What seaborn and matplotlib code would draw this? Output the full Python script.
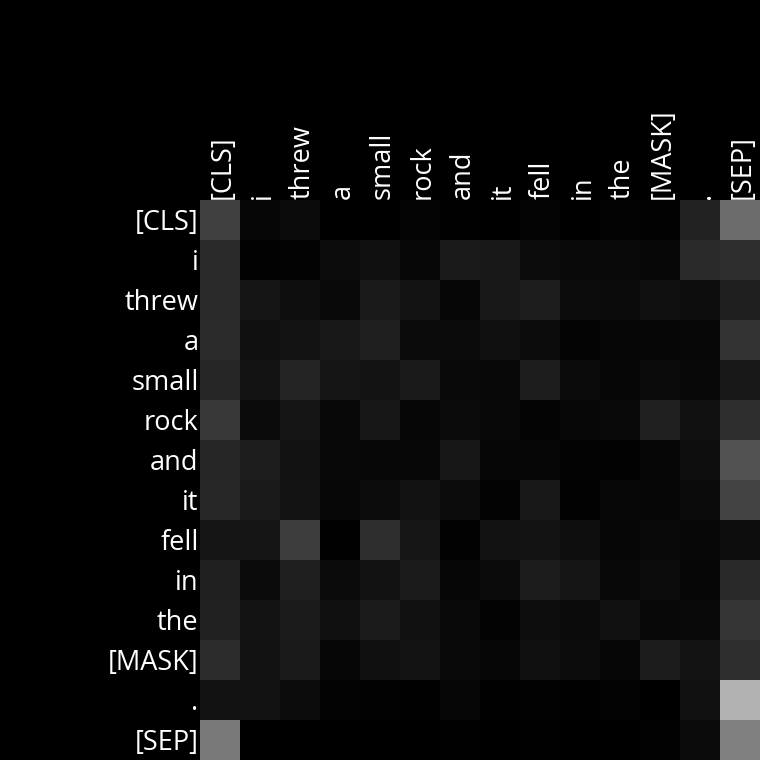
import numpy as np
import pandas as pd
import matplotlib
matplotlib.use("Agg")
import matplotlib.pyplot as plt
import matplotlib.transforms as mtransforms
import seaborn as sns

# Tokens of the sentence
tokens = ["[CLS]", "i", "threw", "a", "small", "rock", "and", "it",
          "fell", "in", "the", "[MASK]", ".", "[SEP]"]

# Attention weights (row = query token, column = key token)
row_cls = [.251, .027, .043, .000, .000, .016, .004, .000, .016, .000, .012, .008, .133, .424]
row_i = [.165, .008, .012, .047, .063, .031, .098, .094, .047, .039, .039, .031, .165, .180]
row_threw = [.165, .082, .055, .039, .098, .075, .027, .094, .114, .047, .043, .063, .051, .118]
row_a = [.169, .063, .078, .094, .118, .043, .043, .063, .047, .016, .020, .027, .031, .196]
row_small = [.149, .078, .137, .082, .078, .102, .039, .035, .114, .043, .020, .043, .035, .094]
row_rock = [.220, .043, .082, .035, .090, .020, .043, .035, .016, .031, .039, .125, .067, .180]
row_and = [.149, .114, .071, .035, .031, .031, .090, .027, .027, .012, .008, .024, .055, .322]
row_it = [.153, .102, .078, .031, .047, .071, .047, .012, .094, .008, .031, .027, .043, .263]
row_fell = [.082, .082, .235, .004, .176, .086, .008, .071, .075, .055, .020, .039, .031, .051]
row_in = [.125, .043, .122, .043, .071, .106, .027, .043, .110, .082, .035, .047, .027, .161]
row_the = [.129, .078, .106, .063, .106, .067, .039, .012, .051, .043, .067, .035, .039, .208]
row_mask = [.173, .071, .098, .024, .059, .078, .039, .024, .059, .047, .027, .110, .075, .180]
row_dot = [.071, .071, .047, .012, .008, .004, .027, .004, .008, .004, .012, .000, .067, .698]
row_sep = [.471, .000, .000, .000, .000, .000, .004, .000, .004, .000, .000, .008, .043, .502]

attn = pd.DataFrame(
    [row_cls, row_i, row_threw, row_a, row_small, row_rock, row_and, row_it,
     row_fell, row_in, row_the, row_mask, row_dot, row_sep],
    index=tokens, columns=tokens)

plt.rcParams["font.family"] = ["Open Sans", "DejaVu Sans"]

fig = plt.figure(figsize=(7.6, 7.6), dpi=100, facecolor="black")
ax = fig.add_axes([200 / 760, 0, 560 / 760, 560 / 760])
sns.heatmap(attn, ax=ax, cmap="gray", vmin=0, vmax=1, cbar=False,
            square=False, xticklabels=tokens, yticklabels=tokens)

ax.xaxis.tick_top()
ax.tick_params(axis="both", length=0, pad=1, labelsize=19.5, colors="white")
plt.setp(ax.get_xticklabels(), rotation=90)
plt.setp(ax.get_yticklabels(), rotation=0)
ax.set_xlabel("")
ax.set_ylabel("")

# nudge labels a few pixels to line up with the cells like the original
shift_x = mtransforms.ScaledTranslation(3 / 100, 0, fig.dpi_scale_trans)
shift_y = mtransforms.ScaledTranslation(0, -3 / 100, fig.dpi_scale_trans)
for lab in ax.get_xticklabels():
    lab.set_transform(lab.get_transform() + shift_x)
for lab in ax.get_yticklabels():
    lab.set_transform(lab.get_transform() + shift_y)

fig.savefig("out.png", dpi=100, facecolor="black")
